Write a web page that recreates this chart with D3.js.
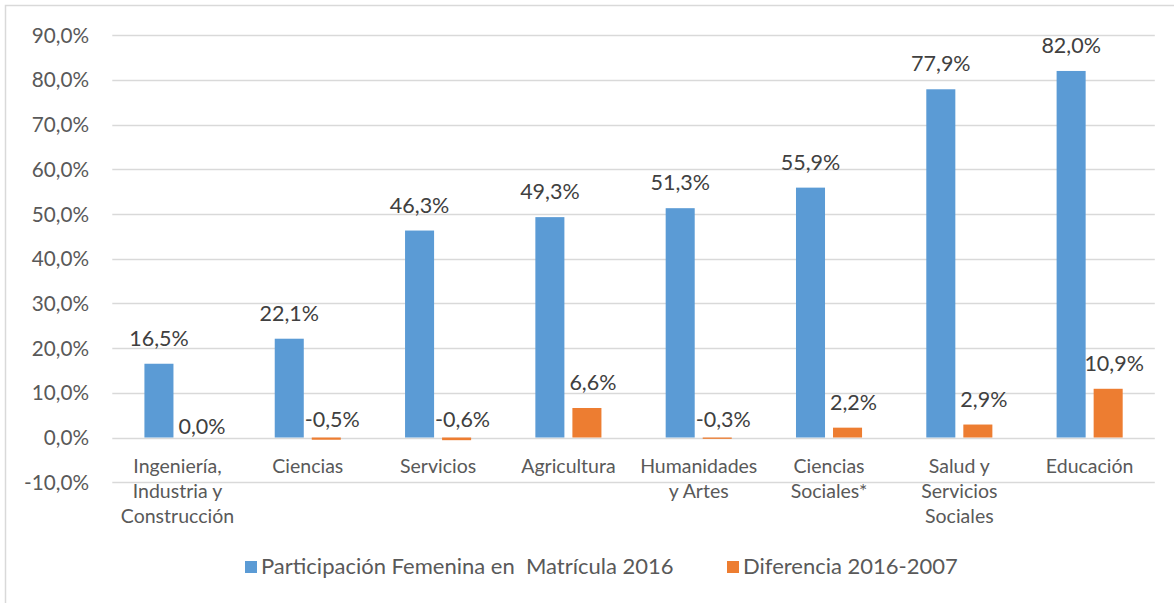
<!DOCTYPE html>
<html>
<head>
<meta charset="utf-8">
<script src="https://cdn.jsdelivr.net/npm/d3@7"></script>
<style>
  html, body { margin: 0; padding: 0; background: #fff; }
  svg { display: block; font-family: Lato, "Open Sans", sans-serif; }
</style>
</head>
<body>
<svg id="chart" width="1174" height="603"></svg>
<script>
// ---- Data ----
const categories = [
  "Ingeniería,\nIndustria y\nConstrucción",
  "Ciencias",
  "Servicios",
  "Agricultura",
  "Humanidades\ny Artes",
  "Ciencias\nSociales*",
  "Salud y\nServicios\nSociales",
  "Educación"
];
const seriesNames = ["Participación Femenina en  Matrícula 2016", "Diferencia 2016-2007"];
const participacion2016 = [16.5, 22.1, 46.3, 49.3, 51.3, 55.9, 77.9, 82.0];
const diferencia = [0.0, -0.5, -0.6, 6.6, -0.3, 2.2, 2.9, 10.9];
const yTicks = [-10, 0, 10, 20, 30, 40, 50, 60, 70, 80, 90];
const colors = ["#5b9bd5", "#ed7d31"];

// ---- Layout ----
const svg = d3.select("#chart");
const plotLeft = 112.3, plotRight = 1154.8;
const y = d3.scaleLinear().domain([-10, 90]).range([482.2, 35.2]);
const x0 = d3.scaleBand().domain(categories).range([plotLeft, plotRight])
  .paddingInner(0.493).paddingOuter(0.2465);
const x1 = d3.scaleBand().domain([0, 1]).range([0, x0.bandwidth()]).paddingInner(0.216);

const locale = d3.formatLocale({decimal: ",", thousands: ".", grouping: [3], currency: ["", "€"], minus: "-"});
const fmt = v => locale.format(".1f")(v) + "%";

// chart frame
svg.append("rect").attr("x", 5.5).attr("y", 5.5).attr("width", 1180).attr("height", 610)
  .attr("fill", "none").attr("stroke", "#d9d9d9").attr("stroke-width", 1.5);

// gridlines
svg.append("g").selectAll("line").data(yTicks).join("line")
  .attr("x1", plotLeft).attr("x2", plotRight)
  .attr("y1", d => Math.round(y(d)) + 0.5).attr("y2", d => Math.round(y(d)) + 0.5)
  .attr("stroke", "#d9d9d9").attr("stroke-width", 1.3);

// y tick labels
svg.append("g").selectAll("text").data(yTicks).join("text")
  .attr("x", 89).attr("y", d => y(d) + 7.5)
  .attr("text-anchor", "end").attr("font-size", 20.7).attr("fill", "#595959")
  .text(d => fmt(d));

// bars
const series = [participacion2016, diferencia];
const groups = svg.append("g").selectAll("g").data(categories).join("g")
  .attr("transform", d => `translate(${x0(d)},0)`);

groups.each(function(cat, i) {
  const g = d3.select(this);
  series.forEach((vals, s) => {
    const v = vals[i];
    g.append("rect")
      .attr("x", x1(s)).attr("width", x1.bandwidth())
      .attr("y", y(Math.max(v, 0)))
      .attr("height", Math.max(Math.abs(y(v) - y(0)), 0))
      .attr("fill", colors[s]);
    const ly = v > 0 ? y(v) - 18 : y(0) - (v === 0 ? 4 : 11);
    g.append("text")
      .attr("x", x1(s) + x1.bandwidth() / 2 + (s === 1 ? 6 : 0))
      .attr("y", ly)
      .attr("text-anchor", "middle").attr("font-size", 21.5).attr("fill", "#404040")
      .text(fmt(v));
  });
});

// category labels
groups.append("text")
  .attr("x", x0.bandwidth() / 2).attr("y", 473)
  .attr("text-anchor", "middle").attr("font-size", 19.5).attr("fill", "#595959")
  .selectAll("tspan").data(d => d.split("\n")).join("tspan")
  .attr("x", x0.bandwidth() / 2)
  .attr("dy", (d, k) => k === 0 ? 0 : 25)
  .text(d => d);

// legend
const legendX = [245, 727];
const legend = svg.append("g").selectAll("g").data(seriesNames).join("g")
  .attr("transform", (d, i) => `translate(${legendX[i]},561)`);
legend.append("rect").attr("width", 12).attr("height", 12).attr("fill", (d, i) => colors[i]);
legend.append("text").attr("x", 16).attr("y", 13)
  .attr("font-size", 22).attr("fill", "#595959")
  .attr("xml:space", "preserve").style("white-space", "pre")
  .text(d => d);
</script>
</body>
</html>
